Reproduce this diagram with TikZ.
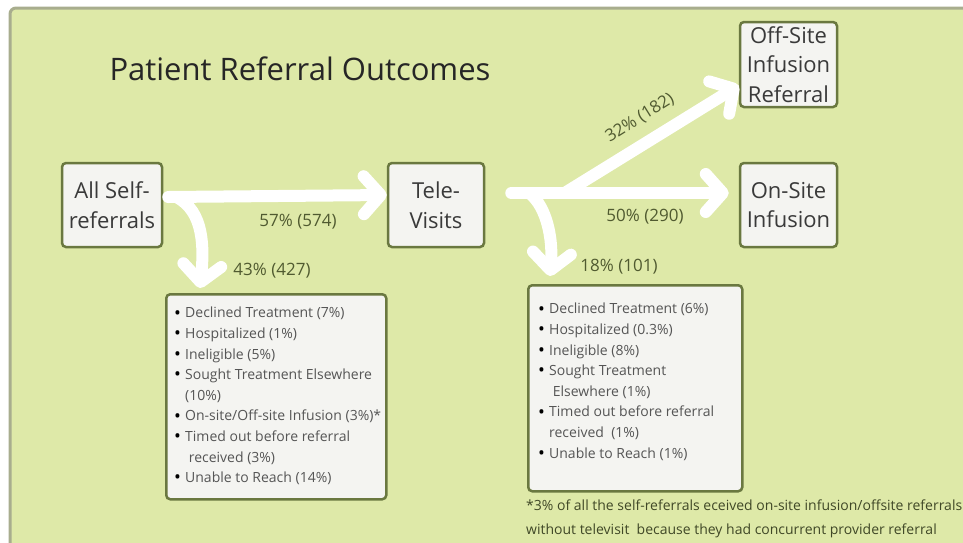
\documentclass[tikz,border=0pt]{standalone}
\usepackage{fontspec}
\setmainfont{Open Sans}
\usetikzlibrary{arrows.meta}
\definecolor{bg}{HTML}{DEE9A8}
\definecolor{frame}{HTML}{A8AD8E}
\definecolor{boxline}{HTML}{6A7840}
\definecolor{boxfill}{HTML}{F4F4F1}
\definecolor{boxtext}{HTML}{3A3A3A}
\definecolor{pct}{HTML}{505A30}
\definecolor{listtext}{HTML}{555555}
\newcommand{\bul}{\makebox[11pt][l]{\raisebox{-1.2pt}{\textcolor{black}{\scalebox{1.3}{\textbullet}}}}}
\newcommand{\cont}{\hspace*{11pt}}
\tikzset{
  stage/.style={draw=boxline, fill=boxfill, line width=2.5pt, rounded corners=4pt,
    minimum width=97pt, minimum height=84pt, inner sep=0pt, align=center,
    text=boxtext, font=\fontsize{22}{29.5}\selectfont},
  listbox/.style={draw=boxline, fill=boxfill, line width=2.5pt, rounded corners=4pt,
    anchor=north west, inner sep=0pt},
  listtext/.style={anchor=north west, inner sep=0pt, align=left, text=listtext,
    font=\fontsize{14}{20.6}\selectfont},
  pctlabel/.style={text=pct, font=\fontsize{17}{20}\selectfont, inner sep=0pt},
  flow/.style={draw=white, line width=12pt, line cap=round,
    -{Straight Barb[length=17pt,width=38pt,round]}}
}
\begin{document}
\begin{tikzpicture}[x=1pt,y=-1pt]
  \clip (0,0) rectangle (963,542);
  \fill[white] (0,0) rectangle (963,542);
  \draw[fill=bg, draw=frame, line width=3pt, rounded corners=6pt] (10,8) rectangle (990,570);

  \node[anchor=base west, text=black!85, font=\fontsize{31}{36}\selectfont] (title) at (106,80) {Patient Referral Outcomes};

  \node[stage, minimum width=100pt] (all) at (112,205) {All Self-\\referrals};
  \node[stage, minimum width=96pt] (tele) at (436,205) {Tele-\\Visits};
  \node[stage, minimum height=85pt] (off) at (788.5,64.5) {Off-Site\\Infusion\\Referral};
  \node[stage] (on) at (788.5,205) {On-Site\\Infusion};

  \node[listbox, minimum width=220pt, minimum height=205pt] (lbox) at (165,293) {};
  \node[listbox, minimum width=214pt, minimum height=206pt] (rbox) at (527,284) {};

  \node[listtext] (ltext) at (174,307) {\bul Declined Treatment (7\%)\\
    \bul Hospitalized (1\%)\\
    \bul Ineligible (5\%)\\
    \bul Sought Treatment Elsewhere\\
    \cont(10\%)\\
    \bul On-site/Off-site Infusion (3\%)*\\
    \bul Timed out before referral\\
    \cont\ received (3\%)\\
    \bul Unable to Reach (14\%)};
  \node[listtext] (rtext) at (538,303) {\bul Declined Treatment (6\%)\\
    \bul Hospitalized (0.3\%)\\
    \bul Ineligible (8\%)\\
    \bul Sought Treatment\\
    \cont\ Elsewhere (1\%)\\
    \bul Timed out before referral\\
    \cont received\ \ (1\%)\\
    \bul Unable to Reach (1\%)};

  \coordinate (split) at ([shift={(26pt,12pt)}]tele.east);
  \coordinate (fork) at ([shift={(81pt,13pt)}]tele.east);

  \draw[flow] ([shift={(5pt,8pt)}]all.east) -- ([yshift=10pt]tele.west);
  \draw[flow] ([shift={(13pt,8pt)}]all.east) .. controls +(28,14) and +(4,-40) .. ([shift={(35pt,5pt)}]lbox.north west);
  \draw[flow] (split) -- ([shift={(-10pt,12pt)}]on.west);
  \draw[flow] (fork) -- ([yshift=-21pt]off.west);
  \draw[flow] ([xshift=18pt]split) .. controls +(18,14) and +(3,-36) .. ([shift={(23pt,8pt)}]rbox.north west);

  \node[pctlabel] (p57) at (298,222) {57\% (574)};
  \node[pctlabel] (p43) at (272,271) {43\% (427)};
  \node[pctlabel, rotate=32] (p32) at (640,118) {32\% (182)};
  \node[pctlabel] (p50) at (645,217) {50\% (290)};
  \node[pctlabel] (p18) at (619,267) {18\% (101)};

  \node[anchor=north west, inner sep=0pt, align=left, text=pct!80!black,
    font=\fontsize{14}{23.5}\selectfont] (note) at (526,500)
    {*3\% of all the self-referrals eceived on-site infusion/offsite referrals\\
     without televisit\ \ because they had concurrent provider referral};
\end{tikzpicture}
\end{document}
